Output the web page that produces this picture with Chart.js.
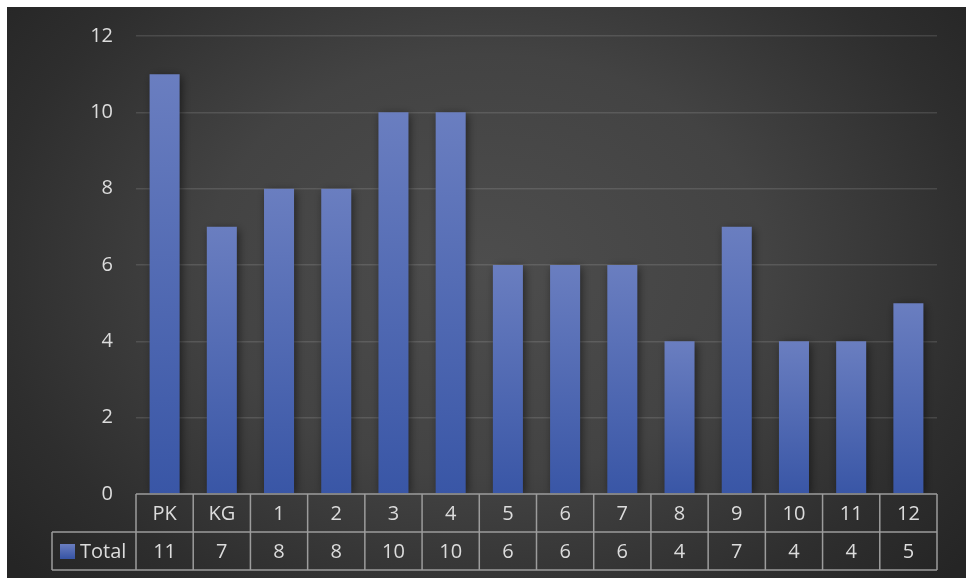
<!DOCTYPE html>
<html>
<head>
<meta charset="utf-8">
<script src="https://cdn.jsdelivr.net/npm/chart.js@4/dist/chart.umd.min.js"></script>
<style>
  html, body { margin: 0; padding: 0; background: #ffffff; }
  #wrap { width: 969px; height: 581px; position: relative; }
</style>
</head>
<body>
<div id="wrap"><canvas id="c" width="969" height="581"></canvas></div>
<script>
// Grade levels and their totals
const categories = ['PK', 'KG', '1', '2', '3', '4', '5', '6', '7', '8', '9', '10', '11', '12'];
const totals = [11, 7, 8, 8, 10, 10, 6, 6, 6, 4, 7, 4, 4, 5];
const seriesName = 'Total';
const yTicks = [0, 2, 4, 6, 8, 10, 12];

const FONT = '"Open Sans", "DejaVu Sans", sans-serif';
const FONT_SIZE = 20;
const TEXT = '#dcdcdc';
const BORDER = '#9c9c9c';
const BAR_TOP = 'rgb(106,126,192)';
const BAR_BOTTOM = 'rgb(57,86,166)';

function barGradient(ctx, top, bottom) {
  const g = ctx.createLinearGradient(0, top, 0, bottom);
  g.addColorStop(0, BAR_TOP);
  g.addColorStop(1, BAR_BOTTOM);
  return g;
}

// Dark panel with a soft radial light in the middle
const panelPlugin = {
  id: 'panel',
  beforeDraw(chart) {
    const ctx = chart.ctx;
    const x0 = 7, y0 = 7, w = 959, h = 571;
    const cx = x0 + w / 2, cy = y0 + h * 0.45;
    ctx.save();
    ctx.fillStyle = '#ffffff';
    ctx.fillRect(0, 0, chart.width, chart.height);
    ctx.beginPath();
    ctx.rect(x0, y0, w, h);
    ctx.clip();
    ctx.translate(cx, cy);
    ctx.scale(1, 0.75);
    const g = ctx.createRadialGradient(0, 0, 0, 0, 0, 620);
    g.addColorStop(0, '#4d4d4d');
    g.addColorStop(0.45, '#434343');
    g.addColorStop(0.8, '#2e2e2e');
    g.addColorStop(1, '#252525');
    ctx.fillStyle = g;
    ctx.fillRect(-w, -h * 2, w * 2, h * 4);
    ctx.restore();
  }
};

// Soft drop shadow under the bars
const shadowPlugin = {
  id: 'barShadow',
  beforeDatasetsDraw(chart) {
    const ctx = chart.ctx;
    ctx.save();
    ctx.shadowColor = 'rgba(0,0,0,0.55)';
    ctx.shadowBlur = 9;
    ctx.shadowOffsetX = 2;
    ctx.shadowOffsetY = 2;
  },
  afterDatasetsDraw(chart) {
    chart.ctx.restore();
  }
};

// Data table drawn beneath the plot area
const tablePlugin = {
  id: 'dataTable',
  afterDraw(chart) {
    const ctx = chart.ctx;
    const xs = chart.scales.x;
    const area = chart.chartArea;
    const n = categories.length;
    const colW = (area.right - area.left) / n;
    const rowH = 38;
    const top = area.bottom;
    const legendLeft = 52;
    ctx.save();
    ctx.strokeStyle = BORDER;
    ctx.lineWidth = 1.5;
    ctx.beginPath();
    ctx.moveTo(area.left, top); ctx.lineTo(area.right, top);
    ctx.moveTo(legendLeft, top + rowH); ctx.lineTo(area.right, top + rowH);
    ctx.moveTo(legendLeft, top + 2 * rowH); ctx.lineTo(area.right, top + 2 * rowH);
    ctx.moveTo(legendLeft, top + rowH); ctx.lineTo(legendLeft, top + 2 * rowH);
    for (let i = 0; i <= n; i++) {
      const x = area.left + i * colW;
      ctx.moveTo(x, top); ctx.lineTo(x, top + 2 * rowH);
    }
    ctx.stroke();

    ctx.fillStyle = TEXT;
    ctx.font = FONT_SIZE + 'px ' + FONT;
    ctx.textAlign = 'center';
    ctx.textBaseline = 'middle';
    for (let i = 0; i < n; i++) {
      const x = xs.getPixelForValue(i);
      ctx.fillText(categories[i], x, top + rowH / 2 + 1);
      ctx.fillText(String(totals[i]), x, top + rowH * 1.5 + 1);
    }
    // legend key + series name
    const ky = top + rowH * 1.5;
    ctx.fillStyle = barGradient(ctx, ky - 7, ky + 7);
    ctx.fillRect(60, ky - 7, 15, 15);
    ctx.fillStyle = TEXT;
    ctx.textAlign = 'left';
    ctx.fillText(seriesName, 80, ky + 1);
    ctx.restore();
  }
};

new Chart(document.getElementById('c'), {
  type: 'bar',
  data: {
    labels: categories,
    datasets: [{
      label: seriesName,
      data: totals,
      backgroundColor(context) {
        const chart = context.chart;
        if (!chart.chartArea || context.dataIndex === undefined) return BAR_BOTTOM;
        const y = chart.scales.y;
        const v = context.dataset.data[context.dataIndex];
        return barGradient(chart.ctx, y.getPixelForValue(v), y.getPixelForValue(0));
      },
      borderWidth: 0,
      barPercentage: 0.525,
      categoryPercentage: 1.0
    }]
  },
  options: {
    responsive: false,
    animation: false,
    devicePixelRatio: 1,
    layout: { padding: { top: 36, right: 32, bottom: 87, left: 0 } },
    plugins: {
      legend: { display: false },
      tooltip: { enabled: false }
    },
    scales: {
      x: { display: false },
      y: {
        min: 0,
        max: 12,
        afterFit(scale) { scale.width = 136; },
        afterBuildTicks(scale) { scale.ticks = yTicks.map(v => ({ value: v })); },
        border: { display: false },
        grid: {
          color(ctx) { return ctx.tick && ctx.tick.value === 0 ? 'rgba(0,0,0,0)' : 'rgba(255,255,255,0.12)'; },
          lineWidth: 1.5,
          drawTicks: false
        },
        ticks: {
          color: TEXT,
          font: { family: FONT, size: FONT_SIZE },
          padding: 23
        }
      }
    }
  },
  plugins: [panelPlugin, shadowPlugin, tablePlugin]
});
</script>
</body>
</html>
